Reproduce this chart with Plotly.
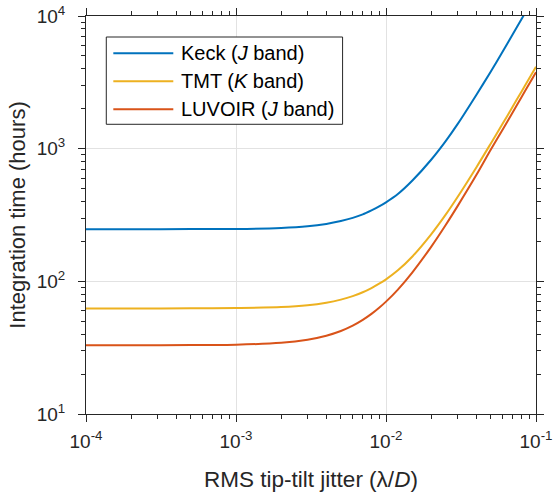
import plotly.graph_objects as go

# RMS tip-tilt jitter (lambda/D)
jitter = [1e-4, 2e-4, 5e-4, 1e-3, 2e-3, 3e-3, 4e-3, 5e-3, 6e-3, 7e-3, 8e-3, 9e-3,
          1e-2, 1.2e-2, 1.5e-2, 2e-2, 2.5e-2, 3e-2, 4e-2, 5e-2, 6e-2, 7e-2, 8e-2, 9e-2, 1e-1]

# Integration time (hours) for each telescope
keck_hours = [247, 247, 247.5, 248, 252.5, 260, 271, 285, 301, 320, 343, 367,
              394, 455, 575, 825, 1140, 1530, 2540, 3820, 5400, 7280, 9450, 11900, 14700]
tmt_hours = [62.5, 62.5, 62.6, 63, 64, 66, 69, 72.8, 77.3, 82.7, 89, 96,
             103.5, 121, 154, 226, 318, 432, 722, 1095, 1545, 2080, 2690, 3380, 4150]
luvoir_hours = [33, 33, 33.1, 33.3, 34.4, 36.3, 38.9, 42.2, 46.3, 51.2, 56.8, 63.2,
                70.3, 86.7, 117, 182, 266, 369, 632, 985, 1395, 1885, 2445, 3070, 3770]

series_names = ["Keck (<i>J</i> band)", "TMT (<i>K</i> band)", "LUVOIR (<i>J</i> band)"]
series_values = [keck_hours, tmt_hours, luvoir_hours]
series_colors = ["#0072BD", "#EDB120", "#D95319"]

# decade tick labels
x_exponents = [-4, -3, -2, -1]
y_exponents = [1, 2, 3, 4]

FONT = "Liberation Sans, Arial, Helvetica, sans-serif"
AX = "#262626"

fig = go.Figure()
for name, vals, col in zip(series_names, series_values, series_colors):
    fig.add_trace(go.Scatter(x=jitter, y=vals, mode="lines", name=name,
                             line=dict(color=col, width=2, shape="spline", smoothing=0.8),
                             showlegend=False))

# minor ticks at 2..9 within each decade
x_minor = [k * 10.0 ** e for e in x_exponents[:-1] for k in range(2, 10)]
y_minor = [k * 10.0 ** e for e in y_exponents[:-1] for k in range(2, 10)]

axis_common = dict(
    type="log",
    ticks="outside", ticklen=7, tickwidth=1, tickcolor=AX,
    showline=True, linecolor=AX, linewidth=1, mirror="ticks",
    showgrid=True, gridcolor="#e2e2e2", gridwidth=1, zeroline=False,
    tickfont=dict(family=FONT, size=19, color=AX),
)

fig.update_xaxes(**axis_common, range=[x_exponents[0], x_exponents[-1]],
                 tickvals=[10.0 ** e for e in x_exponents],
                 ticktext=[f"10<sup>{e}</sup>" for e in x_exponents],
                 ticklabelstandoff=3,
                 minor=dict(ticks="outside", ticklen=4, tickcolor=AX, tickwidth=1,
                            tickvals=x_minor, showgrid=False),
                 title=dict(text="RMS tip-tilt jitter (λ/<i>D</i>)",
                            font=dict(family=FONT, size=22.5, color=AX), standoff=20))
fig.update_yaxes(**axis_common, range=[y_exponents[0], y_exponents[-1]],
                 tickvals=[10.0 ** e for e in y_exponents],
                 ticktext=[f"10<sup>{e}</sup>" for e in y_exponents],
                 ticklabelstandoff=9,
                 minor=dict(ticks="outside", ticklen=4, tickcolor=AX, tickwidth=1,
                            tickvals=y_minor, showgrid=False),
                 title=dict(text="Integration time (hours)",
                            font=dict(family=FONT, size=22, color=AX), standoff=4))

# legend box drawn in paper coordinates
shapes = [dict(type="rect", xref="paper", yref="paper", x0=0.0451, x1=0.5702,
               y0=0.7279, y1=0.9472, line=dict(color=AX, width=1), fillcolor="white",
               layer="above")]
annotations = []
row_y = [0.9063, 0.8359, 0.7656]
for name, col, ry in zip(series_names, series_colors, row_y):
    shapes.append(dict(type="line", xref="paper", yref="paper", x0=0.0607, x1=0.194,
                       y0=ry, y1=ry, line=dict(color=col, width=2), layer="above"))
    annotations.append(dict(xref="paper", yref="paper", x=0.2073, y=ry, text=name,
                            showarrow=False, xanchor="left", yanchor="middle",
                            font=dict(family=FONT, size=20, color="black")))

fig.update_layout(
    width=554, height=494,
    margin=dict(l=86, r=18, t=16, b=80, autoexpand=False),
    paper_bgcolor="white", plot_bgcolor="white",
    shapes=shapes, annotations=annotations, showlegend=False,
)

fig.write_html("out.html")
